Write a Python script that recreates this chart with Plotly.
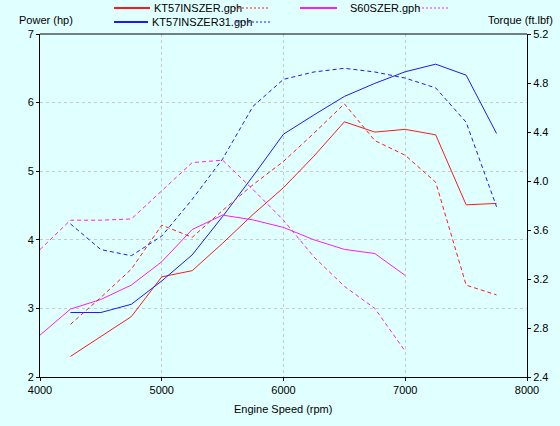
import plotly.graph_objects as go

# ---------------- data ----------------
rpm_kt = [4250, 4500, 4750, 5000, 5250, 5500, 5750, 6000, 6250, 6500, 6750, 7000, 7250, 7500, 7750]
kt_power = [2.30, 2.59, 2.88, 3.46, 3.55, 3.95, 4.37, 4.76, 5.22, 5.72, 5.57, 5.61, 5.53, 4.51, 4.53]
kt_torque = [2.83, 3.05, 3.28, 3.64, 3.54, 3.76, 3.97, 4.16, 4.39, 4.63, 4.33, 4.21, 3.99, 3.15, 3.07]

rpm_kt31 = [4250, 4500, 4750, 5000, 5250, 5500, 5750, 6000, 6250, 6500, 6750, 7000, 7250, 7500, 7750]
kt31_power = [2.94, 2.94, 3.06, 3.40, 3.78, 4.34, 4.93, 5.54, 5.82, 6.09, 6.28, 6.45, 6.56, 6.40, 5.55]
kt31_torque = [3.65, 3.44, 3.39, 3.55, 3.85, 4.18, 4.61, 4.83, 4.89, 4.92, 4.89, 4.84, 4.76, 4.48, 3.79]

rpm_s60 = [4000, 4250, 4500, 4750, 5000, 5250, 5500, 5750, 6000, 6250, 6500, 6750, 7000]
s60_power = [2.61, 2.99, 3.13, 3.34, 3.68, 4.15, 4.36, 4.29, 4.18, 4.00, 3.86, 3.80, 3.48]
s60_torque = [3.44, 3.68, 3.68, 3.69, 3.92, 4.15, 4.17, 3.93, 3.68, 3.38, 3.14, 2.96, 2.61]

names = ["KT57INSZER.gph", "KT57INSZER31.gph", "S60SZER.gph"]
x_ticks = [4000, 5000, 6000, 7000, 8000]
power_ticks = [2, 3, 4, 5, 6, 7]
torque_ticks = [2.4, 2.8, 3.2, 3.6, 4.0, 4.4, 4.8, 5.2]

RED = "#ff1a1a"
BLUE = "#1a1aff"
MAG = "#ff1aff"
BG = "#e0ffff"
GRID = "#c4cccc"
FONT = "Liberation Sans, Arial, sans-serif"

# plot area in pixels
W, H = 560, 426
L, R, T, B = 40, 527, 34, 377


def px(x):
    return (x - L) / (R - L)


def py(y):
    return (B - y) / (B - T)


fig = go.Figure()
series = [
    (rpm_kt, kt_power, kt_torque, RED),
    (rpm_kt31, kt31_power, kt31_torque, BLUE),
    (rpm_s60, s60_power, s60_torque, MAG),
]
for (xs, p, tq, c), n in zip(series, names):
    fig.add_trace(go.Scatter(x=xs, y=p, mode="lines", name=n,
                             line=dict(color=c, width=1), showlegend=False))
    fig.add_trace(go.Scatter(x=xs, y=tq, mode="lines", name=n, yaxis="y2",
                             line=dict(color=c, width=1, dash="4px,3px"), showlegend=False))

axis_common = dict(
    showline=True, linecolor="black", linewidth=1, mirror=False,
    ticks="outside", ticklen=3, tickcolor="black",
    tickfont=dict(family=FONT, size=11, color="black"),
    zeroline=False, automargin=False,
)

fig.update_layout(
    width=W, height=H,
    paper_bgcolor=BG, plot_bgcolor=BG,
    margin=dict(l=L, r=W - R, t=T, b=H - B, pad=0),
    font=dict(family=FONT, size=11, color="black"),
    xaxis=dict(range=[4000, 8000], tickvals=x_ticks, showgrid=True,
               gridcolor=GRID, griddash="3px,3px", gridwidth=1,
               **axis_common),
    yaxis=dict(range=[2, 7], tickvals=power_ticks, showgrid=True,
               gridcolor=GRID, griddash="3px,3px", gridwidth=1,
               **axis_common),
    yaxis2=dict(range=[2.4, 5.2], tickvals=torque_ticks, tickformat=".1f",
                overlaying="y", side="right", showgrid=False, **axis_common),
    showlegend=False,
)

# top border of plot frame
fig.add_shape(type="line", xref="paper", yref="paper", x0=0, x1=1, y0=1, y1=1,
              line=dict(color="black", width=1))

# custom legend: solid sample, name, dotted sample
legend_rows = [
    (RED, names[0], 114, 150, 152, 234, 270, 8),
    (BLUE, names[1], 114, 148, 150, 236, 270, 22),
    (MAG, names[2], 300, 337, 348, 418, 448, 8),
]
for c, n, s0, s1, tx, d0, d1, yy in legend_rows:
    fig.add_shape(type="line", xref="paper", yref="paper",
                  x0=px(s0), x1=px(s1), y0=py(yy), y1=py(yy),
                  line=dict(color=c, width=2))
    fig.add_shape(type="line", xref="paper", yref="paper",
                  x0=px(d0), x1=px(d1), y0=py(yy), y1=py(yy),
                  line=dict(color=c, width=1, dash="2px,2px"))
    fig.add_annotation(text=n, xref="paper", yref="paper", x=px(tx), y=py(yy),
                       xanchor="left", yanchor="middle", showarrow=False,
                       font=dict(family=FONT, size=11, color="black"))

# axis titles
fig.add_annotation(text="Power (hp)", xref="paper", yref="paper",
                   x=px(46), y=py(20), xanchor="center", yanchor="middle",
                   showarrow=False, font=dict(family=FONT, size=11, color="black"))
fig.add_annotation(text="Torque (ft.lbf)", xref="paper", yref="paper",
                   x=px(555), y=py(20), xanchor="right", yanchor="middle",
                   showarrow=False, font=dict(family=FONT, size=11, color="black"))
fig.add_annotation(text="Engine Speed (rpm)", xref="paper", yref="paper",
                   x=px(283), y=py(409), xanchor="center", yanchor="middle",
                   showarrow=False, font=dict(family=FONT, size=11, color="black"))

fig.write_html(
    "out.html",
    config={"displayModeBar": False},
    post_script="document.body.style.margin='0';document.body.style.overflow='hidden';"
                "document.body.style.background='" + BG + "';",
)
